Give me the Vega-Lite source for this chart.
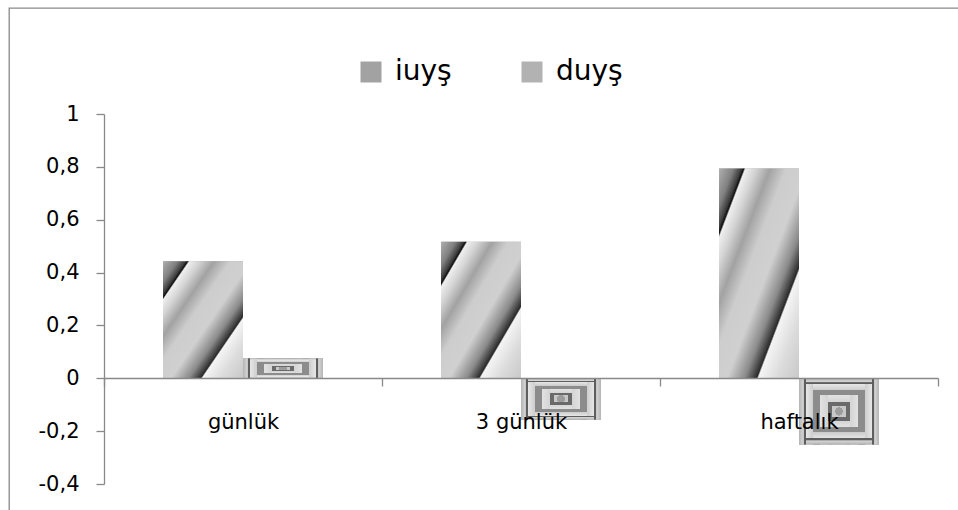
{
  "$schema": "https://vega.github.io/schema/vega-lite/v6.json",
  "width": 960,
  "height": 512,
  "autosize": {"type": "none"},
  "padding": {"left": 9, "top": 8, "right": 0, "bottom": 0},
  "background": "white",
  "config": {
    "view": {"stroke": "#898989", "strokeWidth": 1.3},
    "font": "DejaVu Sans",
    "locale": {"number": {"decimal": ",", "thousands": ".", "grouping": [3], "currency": ["", ""], "minus": "-"}}
  },
  "data": {
    "values": [
      {"period": "günlük", "series": "iuyş", "value": 0.443},
      {"period": "günlük", "series": "duyş", "value": 0.075},
      {"period": "3 günlük", "series": "iuyş", "value": 0.517},
      {"period": "3 günlük", "series": "duyş", "value": -0.156},
      {"period": "haftalık", "series": "iuyş", "value": 0.794},
      {"period": "haftalık", "series": "duyş", "value": -0.25}
    ]
  },
  "encoding": {
    "x": {
      "field": "period",
      "type": "nominal",
      "scale": {"domain": ["günlük", "3 günlük", "haftalık"], "range": [95, 929], "paddingInner": 0, "paddingOuter": 0},
      "axis": {
        "title": null,
        "orient": "bottom",
        "offset": -142,
        "zindex": 1,
        "grid": false,
        "domainColor": "#898989",
        "domainWidth": 1.3,
        "tickColor": "#898989",
        "tickWidth": 1.3,
        "tickSize": 8,
        "tickBand": "extent",
        "labelAngle": 0,
        "labelFont": "DejaVu Sans",
        "labelFontSize": 21,
        "labelColor": "#000000",
        "labelPadding": 42,
        "labelBaseline": "alphabetic"
      }
    },
    "xOffset": {
      "field": "series",
      "type": "nominal",
      "scale": {"domain": ["iuyş", "duyş"], "paddingInner": 0, "paddingOuter": 0.7375}
    },
    "y": {
      "field": "value",
      "type": "quantitative",
      "scale": {"domain": [-0.4, 1], "range": [476, 106], "nice": false},
      "axis": {
        "title": null,
        "offset": -95,
        "zindex": 1,
        "grid": false,
        "values": [-0.4, -0.2, 0, 0.2, 0.4, 0.6, 0.8, 1],
        "format": ".1~f",
        "domainColor": "#898989",
        "domainWidth": 1.3,
        "tickColor": "#898989",
        "tickWidth": 1.3,
        "tickSize": 8,
        "labelFont": "DejaVu Sans",
        "labelFontSize": 21,
        "labelColor": "#000000",
        "labelPadding": 17
      }
    }
  },
  "layer": [
    {
      "mark": {"type": "bar"},
      "encoding": {
        "color": {
          "field": "series",
          "type": "nominal",
          "scale": {"domain": ["iuyş", "duyş"], "range": ["#a2a2a2", "#b2b2b2"]},
          "legend": {
            "title": null,
            "orient": "none",
            "legendX": 348,
            "legendY": 50,
            "direction": "horizontal",
            "padding": 0,
            "symbolType": "square",
            "symbolSize": 441,
            "symbolStrokeColor": "transparent",
            "symbolStrokeWidth": 0,
            "labelFont": "DejaVu Sans",
            "labelFontSize": 28,
            "labelColor": "#000000",
            "labelOffset": 10,
            "columnPadding": 66
          }
        }
      }
    },
    {
      "transform": [{"filter": "datum.series === 'iuyş'"}],
      "mark": {"type": "bar", "color": {"gradient": "linear", "x1": 0, "y1": 0, "x2": 1, "y2": 1, "stops": [
        {"offset": 0, "color": "#b0b0b0"}, {"offset": 0.09, "color": "#808080"}, {"offset": 0.14, "color": "#3c3c3c"},
        {"offset": 0.156, "color": "#101010"}, {"offset": 0.166, "color": "#efefef"}, {"offset": 0.23, "color": "#d4d4d4"},
        {"offset": 0.32, "color": "#a2a2a2"}, {"offset": 0.42, "color": "#cdcdcd"}, {"offset": 0.55, "color": "#d0d0d0"},
        {"offset": 0.66, "color": "#8a8a8a"}, {"offset": 0.735, "color": "#2a2a2a"}, {"offset": 0.745, "color": "#f4f4f4"},
        {"offset": 0.86, "color": "#dcdcdc"}, {"offset": 1, "color": "#c8c8c8"}
      ]}}
    },
    {
      "transform": [{"filter": "datum.series === 'duyş'"}],
      "mark": {"type": "bar", "color": {"gradient": "radial", "x1": 0.5, "y1": 0.5, "r1": 0, "x2": 0.5, "y2": 0.5, "r2": 0.5, "stops": [
        {"offset": 0, "color": "#9c9c9c"}, {"offset": 0.1, "color": "#9c9c9c"},
        {"offset": 0.1, "color": "#c8c8c8"}, {"offset": 1, "color": "#c8c8c8"}
      ]}}
    },
    {
      "transform": [{"filter": "datum.series === 'duyş'"}],
      "mark": {"type": "bar", "color": {"gradient": "linear", "x1": 0, "y1": 0, "x2": 0, "y2": 1, "stops": [
        {"offset": 0, "color": "#b4b4b4"}, {"offset": 0.055, "color": "#d6d6d6"}, {"offset": 0.065, "color": "#5e5e5e"}, {"offset": 0.09, "color": "#5e5e5e"},
        {"offset": 0.09, "color": "#e6e6e6"}, {"offset": 0.18, "color": "#cccccc"}, {"offset": 0.18, "color": "#8c8c8c"}, {"offset": 0.26, "color": "#8c8c8c"},
        {"offset": 0.26, "color": "#e2e2e2"}, {"offset": 0.36, "color": "#d4d4d4"}, {"offset": 0.36, "color": "#6a6a6a"}, {"offset": 0.415, "color": "#6a6a6a"},
        {"offset": 0.415, "color": "rgba(0,0,0,0)"}, {"offset": 0.585, "color": "rgba(0,0,0,0)"},
        {"offset": 0.585, "color": "#6a6a6a"}, {"offset": 0.64, "color": "#6a6a6a"}, {"offset": 0.64, "color": "#d4d4d4"}, {"offset": 0.74, "color": "#e2e2e2"},
        {"offset": 0.74, "color": "#8c8c8c"}, {"offset": 0.82, "color": "#8c8c8c"}, {"offset": 0.82, "color": "#cccccc"}, {"offset": 0.91, "color": "#e6e6e6"},
        {"offset": 0.91, "color": "#5e5e5e"}, {"offset": 0.935, "color": "#5e5e5e"}, {"offset": 0.945, "color": "#d6d6d6"}, {"offset": 1, "color": "#b4b4b4"}
      ]}}
    },
    {
      "transform": [{"filter": "datum.series === 'duyş'"}],
      "mark": {"type": "bar", "color": {"gradient": "linear", "x1": 0, "y1": 0, "x2": 1, "y2": 0, "stops": [
        {"offset": 0, "color": "#b4b4b4"}, {"offset": 0.055, "color": "#d6d6d6"}, {"offset": 0.065, "color": "#5e5e5e"}, {"offset": 0.09, "color": "#5e5e5e"},
        {"offset": 0.09, "color": "#e6e6e6"}, {"offset": 0.18, "color": "#cccccc"}, {"offset": 0.18, "color": "#8c8c8c"}, {"offset": 0.26, "color": "#8c8c8c"},
        {"offset": 0.26, "color": "#e2e2e2"}, {"offset": 0.36, "color": "#d4d4d4"}, {"offset": 0.36, "color": "#6a6a6a"}, {"offset": 0.415, "color": "#6a6a6a"},
        {"offset": 0.415, "color": "rgba(0,0,0,0)"}, {"offset": 0.585, "color": "rgba(0,0,0,0)"},
        {"offset": 0.585, "color": "#6a6a6a"}, {"offset": 0.64, "color": "#6a6a6a"}, {"offset": 0.64, "color": "#d4d4d4"}, {"offset": 0.74, "color": "#e2e2e2"},
        {"offset": 0.74, "color": "#8c8c8c"}, {"offset": 0.82, "color": "#8c8c8c"}, {"offset": 0.82, "color": "#cccccc"}, {"offset": 0.91, "color": "#e6e6e6"},
        {"offset": 0.91, "color": "#5e5e5e"}, {"offset": 0.935, "color": "#5e5e5e"}, {"offset": 0.945, "color": "#d6d6d6"}, {"offset": 1, "color": "#b4b4b4"}
      ]}}
    },
    {
      "transform": [{"filter": "datum.series === 'duyş'"}],
      "mark": {"type": "bar", "color": {"gradient": "linear", "x1": 0, "y1": 0, "x2": 0, "y2": 1, "stops": [
        {"offset": 0, "color": "#b4b4b4"}, {"offset": 0.055, "color": "#d6d6d6"}, {"offset": 0.065, "color": "#5e5e5e"}, {"offset": 0.09, "color": "#5e5e5e"},
        {"offset": 0.09, "color": "#e6e6e6"}, {"offset": 0.18, "color": "#cccccc"}, {"offset": 0.18, "color": "#8c8c8c"}, {"offset": 0.26, "color": "#8c8c8c"},
        {"offset": 0.26, "color": "#e2e2e2"}, {"offset": 0.36, "color": "#d4d4d4"},
        {"offset": 0.36, "color": "rgba(0,0,0,0)"}, {"offset": 0.64, "color": "rgba(0,0,0,0)"},
        {"offset": 0.64, "color": "#d4d4d4"}, {"offset": 0.74, "color": "#e2e2e2"},
        {"offset": 0.74, "color": "#8c8c8c"}, {"offset": 0.82, "color": "#8c8c8c"}, {"offset": 0.82, "color": "#cccccc"}, {"offset": 0.91, "color": "#e6e6e6"},
        {"offset": 0.91, "color": "#5e5e5e"}, {"offset": 0.935, "color": "#5e5e5e"}, {"offset": 0.945, "color": "#d6d6d6"}, {"offset": 1, "color": "#b4b4b4"}
      ]}}
    },
    {
      "transform": [{"filter": "datum.series === 'duyş'"}],
      "mark": {"type": "bar", "color": {"gradient": "linear", "x1": 0, "y1": 0, "x2": 1, "y2": 0, "stops": [
        {"offset": 0, "color": "#b4b4b4"}, {"offset": 0.055, "color": "#d6d6d6"}, {"offset": 0.065, "color": "#5e5e5e"}, {"offset": 0.09, "color": "#5e5e5e"},
        {"offset": 0.09, "color": "#e6e6e6"}, {"offset": 0.18, "color": "#cccccc"}, {"offset": 0.18, "color": "#8c8c8c"}, {"offset": 0.26, "color": "#8c8c8c"},
        {"offset": 0.26, "color": "#e2e2e2"}, {"offset": 0.36, "color": "#d4d4d4"},
        {"offset": 0.36, "color": "rgba(0,0,0,0)"}, {"offset": 0.64, "color": "rgba(0,0,0,0)"},
        {"offset": 0.64, "color": "#d4d4d4"}, {"offset": 0.74, "color": "#e2e2e2"},
        {"offset": 0.74, "color": "#8c8c8c"}, {"offset": 0.82, "color": "#8c8c8c"}, {"offset": 0.82, "color": "#cccccc"}, {"offset": 0.91, "color": "#e6e6e6"},
        {"offset": 0.91, "color": "#5e5e5e"}, {"offset": 0.935, "color": "#5e5e5e"}, {"offset": 0.945, "color": "#d6d6d6"}, {"offset": 1, "color": "#b4b4b4"}
      ]}}
    },
    {
      "transform": [{"filter": "datum.series === 'duyş'"}],
      "mark": {"type": "bar", "color": {"gradient": "linear", "x1": 0, "y1": 0, "x2": 0, "y2": 1, "stops": [
        {"offset": 0, "color": "#b4b4b4"}, {"offset": 0.055, "color": "#d6d6d6"}, {"offset": 0.065, "color": "#5e5e5e"}, {"offset": 0.09, "color": "#5e5e5e"},
        {"offset": 0.09, "color": "#e6e6e6"}, {"offset": 0.18, "color": "#cccccc"}, {"offset": 0.18, "color": "#8c8c8c"}, {"offset": 0.26, "color": "#8c8c8c"},
        {"offset": 0.26, "color": "rgba(0,0,0,0)"}, {"offset": 0.74, "color": "rgba(0,0,0,0)"},
        {"offset": 0.74, "color": "#8c8c8c"}, {"offset": 0.82, "color": "#8c8c8c"}, {"offset": 0.82, "color": "#cccccc"}, {"offset": 0.91, "color": "#e6e6e6"},
        {"offset": 0.91, "color": "#5e5e5e"}, {"offset": 0.935, "color": "#5e5e5e"}, {"offset": 0.945, "color": "#d6d6d6"}, {"offset": 1, "color": "#b4b4b4"}
      ]}}
    },
    {
      "transform": [{"filter": "datum.series === 'duyş'"}],
      "mark": {"type": "bar", "color": {"gradient": "linear", "x1": 0, "y1": 0, "x2": 1, "y2": 0, "stops": [
        {"offset": 0, "color": "#b4b4b4"}, {"offset": 0.055, "color": "#d6d6d6"}, {"offset": 0.065, "color": "#5e5e5e"}, {"offset": 0.09, "color": "#5e5e5e"},
        {"offset": 0.09, "color": "#e6e6e6"}, {"offset": 0.18, "color": "#cccccc"}, {"offset": 0.18, "color": "#8c8c8c"}, {"offset": 0.26, "color": "#8c8c8c"},
        {"offset": 0.26, "color": "rgba(0,0,0,0)"}, {"offset": 0.74, "color": "rgba(0,0,0,0)"},
        {"offset": 0.74, "color": "#8c8c8c"}, {"offset": 0.82, "color": "#8c8c8c"}, {"offset": 0.82, "color": "#cccccc"}, {"offset": 0.91, "color": "#e6e6e6"},
        {"offset": 0.91, "color": "#5e5e5e"}, {"offset": 0.935, "color": "#5e5e5e"}, {"offset": 0.945, "color": "#d6d6d6"}, {"offset": 1, "color": "#b4b4b4"}
      ]}}
    },
    {
      "transform": [{"filter": "datum.series === 'duyş'"}],
      "mark": {"type": "bar", "color": {"gradient": "linear", "x1": 0, "y1": 0, "x2": 0, "y2": 1, "stops": [
        {"offset": 0, "color": "#b4b4b4"}, {"offset": 0.055, "color": "#d6d6d6"}, {"offset": 0.065, "color": "#5e5e5e"}, {"offset": 0.09, "color": "#5e5e5e"},
        {"offset": 0.09, "color": "#e6e6e6"}, {"offset": 0.18, "color": "#cccccc"},
        {"offset": 0.18, "color": "rgba(0,0,0,0)"}, {"offset": 0.82, "color": "rgba(0,0,0,0)"},
        {"offset": 0.82, "color": "#cccccc"}, {"offset": 0.91, "color": "#e6e6e6"},
        {"offset": 0.91, "color": "#5e5e5e"}, {"offset": 0.935, "color": "#5e5e5e"}, {"offset": 0.945, "color": "#d6d6d6"}, {"offset": 1, "color": "#b4b4b4"}
      ]}}
    },
    {
      "transform": [{"filter": "datum.series === 'duyş'"}],
      "mark": {"type": "bar", "color": {"gradient": "linear", "x1": 0, "y1": 0, "x2": 1, "y2": 0, "stops": [
        {"offset": 0, "color": "#b4b4b4"}, {"offset": 0.055, "color": "#d6d6d6"}, {"offset": 0.065, "color": "#5e5e5e"}, {"offset": 0.09, "color": "#5e5e5e"},
        {"offset": 0.09, "color": "#e6e6e6"}, {"offset": 0.18, "color": "#cccccc"},
        {"offset": 0.18, "color": "rgba(0,0,0,0)"}, {"offset": 0.82, "color": "rgba(0,0,0,0)"},
        {"offset": 0.82, "color": "#cccccc"}, {"offset": 0.91, "color": "#e6e6e6"},
        {"offset": 0.91, "color": "#5e5e5e"}, {"offset": 0.935, "color": "#5e5e5e"}, {"offset": 0.945, "color": "#d6d6d6"}, {"offset": 1, "color": "#b4b4b4"}
      ]}}
    },
    {
      "transform": [{"filter": "datum.series === 'duyş'"}],
      "mark": {"type": "bar", "color": {"gradient": "linear", "x1": 0, "y1": 0, "x2": 0, "y2": 1, "stops": [
        {"offset": 0, "color": "#b4b4b4"}, {"offset": 0.055, "color": "#d6d6d6"}, {"offset": 0.065, "color": "#5e5e5e"}, {"offset": 0.09, "color": "#5e5e5e"},
        {"offset": 0.09, "color": "rgba(0,0,0,0)"}, {"offset": 0.91, "color": "rgba(0,0,0,0)"},
        {"offset": 0.91, "color": "#5e5e5e"}, {"offset": 0.935, "color": "#5e5e5e"}, {"offset": 0.945, "color": "#d6d6d6"}, {"offset": 1, "color": "#b4b4b4"}
      ]}}
    },
    {
      "transform": [{"filter": "datum.series === 'duyş'"}],
      "mark": {"type": "bar", "color": {"gradient": "linear", "x1": 0, "y1": 0, "x2": 1, "y2": 0, "stops": [
        {"offset": 0, "color": "#b4b4b4"}, {"offset": 0.055, "color": "#d6d6d6"}, {"offset": 0.065, "color": "#5e5e5e"}, {"offset": 0.09, "color": "#5e5e5e"},
        {"offset": 0.09, "color": "rgba(0,0,0,0)"}, {"offset": 0.91, "color": "rgba(0,0,0,0)"},
        {"offset": 0.91, "color": "#5e5e5e"}, {"offset": 0.935, "color": "#5e5e5e"}, {"offset": 0.945, "color": "#d6d6d6"}, {"offset": 1, "color": "#b4b4b4"}
      ]}}
    }
  ]
}
